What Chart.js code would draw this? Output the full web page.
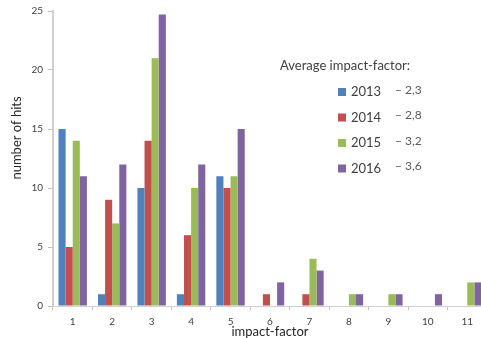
<!DOCTYPE html>
<html>
<head>
<meta charset="utf-8">
<script src="https://cdn.jsdelivr.net/npm/chart.js@4/dist/chart.umd.min.js"></script>
<style>
  html, body { margin: 0; padding: 0; background: #ffffff; overflow: hidden; }
  #wrap { position: absolute; left: 0; top: 0; width: 490px; height: 346px; }
</style>
</head>
<body>
<div id="wrap"><canvas id="c" width="490" height="346"></canvas></div>
<script>
// Impact-factor categories on the x axis
const impactFactors = ['1', '2', '3', '4', '5', '6', '7', '8', '9', '10', '11'];

// Number of hits per impact-factor, one array per year
const hits2013 = [15, 1, 10, 1, 11, 0, 0, 0, 0, 0, 0];
const hits2014 = [5, 9, 14, 6, 10, 1, 1, 0, 0, 0, 0];
const hits2015 = [14, 7, 21, 10, 11, 0, 4, 1, 1, 0, 2];
const hits2016 = [11, 12, 24.7, 12, 15, 2, 3, 1, 1, 1, 2];

const years = ['2013', '2014', '2015', '2016'];
const averageImpact = ['2,3', '2,8', '3,2', '3,6'];
const yearColors = ['#4F81BD', '#C0504D', '#9BBB59', '#8064A2'];

const yMin = 0;
const yMax = 25;
const yStep = 5;

const FONT = 'Lato, "Open Sans", sans-serif';

// Legend with the average impact-factor per year, drawn inside the plot
const averageLegend = {
  id: 'averageLegend',
  afterDraw(chart) {
    const ctx = chart.ctx;
    ctx.save();
    ctx.textBaseline = 'middle';
    ctx.textAlign = 'left';
    ctx.fillStyle = '#404040';
    ctx.font = '13px ' + FONT;
    ctx.fillText('Average impact-factor:', 280, 66);
    chart.data.datasets.forEach((ds, i) => {
      const y = 92 + i * 25.5;
      ctx.fillStyle = ds.backgroundColor;
      ctx.fillRect(338, y - 4, 8, 8);
      ctx.fillStyle = '#404040';
      ctx.font = '13px ' + FONT;
      ctx.fillText(ds.label, 351, y);
      ctx.fillStyle = '#595959';
      ctx.font = '12px ' + FONT;
      ctx.fillText('\u2013 ' + averageImpact[i], 395, y - 2);
    });
    // rotated y-axis title
    ctx.save();
    ctx.translate(17, 138);
    ctx.rotate(-Math.PI / 2);
    ctx.textAlign = 'center';
    ctx.fillStyle = '#262626';
    ctx.font = '13px ' + FONT;
    ctx.fillText('number of hits', 0, 0);
    ctx.restore();
    ctx.restore();
  }
};

new Chart(document.getElementById('c'), {
  type: 'bar',
  data: {
    labels: impactFactors,
    datasets: [hits2013, hits2014, hits2015, hits2016].map((values, i) => ({
      label: years[i],
      data: values,
      backgroundColor: yearColors[i],
      borderWidth: 0,
      barPercentage: 1.0,
      categoryPercentage: 0.72
    }))
  },
  options: {
    responsive: false,
    animation: false,
    devicePixelRatio: 1,
    layout: { padding: { top: 9, right: 3, left: 0, bottom: 0 } },
    plugins: {
      legend: { display: false },
      title: { display: false },
      tooltip: { enabled: false }
    },
    scales: {
      x: {
        offset: true,
        grid: {
          display: true,
          offset: true,
          drawOnChartArea: false,
          drawTicks: true,
          tickLength: 4,
          color: '#bfbfbf'
        },
        border: { display: true, color: '#d0d0d0', width: 1 },
        ticks: {
          color: '#404040',
          font: { family: FONT, size: 10 },
          padding: 6,
          maxRotation: 0,
          autoSkip: false
        },
        title: {
          display: true,
          text: 'impact-factor',
          color: '#262626',
          font: { family: FONT, size: 13 },
          padding: { top: 0, bottom: 6 }
        },
        afterFit(scale) { scale.height = 40; }
      },
      y: {
        min: yMin,
        max: yMax,
        grid: {
          display: true,
          drawOnChartArea: false,
          drawTicks: true,
          tickLength: 5,
          color: '#bfbfbf'
        },
        border: { display: true, color: '#d0d0d0', width: 2 },
        ticks: {
          stepSize: yStep,
          color: '#404040',
          font: { family: FONT, size: 10 },
          padding: 5
        },
        afterFit(scale) { scale.width = 53; }
      }
    }
  },
  plugins: [averageLegend]
});
</script>
</body>
</html>
